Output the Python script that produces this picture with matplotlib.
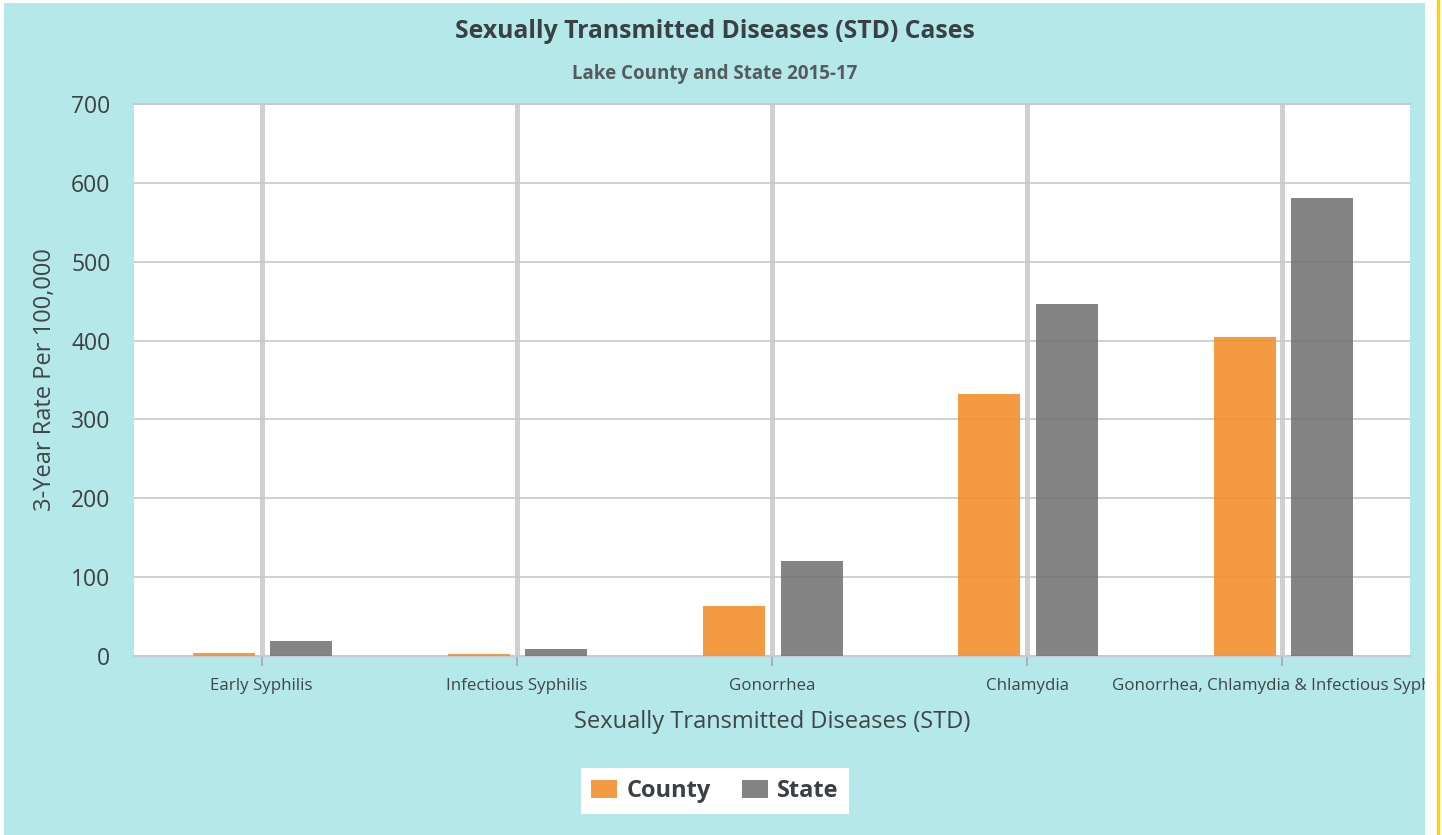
import matplotlib
matplotlib.use("Agg")
import matplotlib.pyplot as plt
import numpy as np
from matplotlib.patches import Rectangle
from matplotlib.lines import Line2D
from matplotlib.transforms import Bbox

categories = ["Early Syphilis", "Infectious Syphilis", "Gonorrhea", "Chlamydia",
              "Gonorrhea, Chlamydia & Infectious Syphilis"]
county = [4, 3, 63, 332, 405]
state = [19, 9, 120, 447, 581]
y_ticks = [0, 100, 200, 300, 400, 500, 600, 700]

plt.rcParams["font.family"] = ["Open Sans", "DejaVu Sans"]

W, H = 1442, 835
fig = plt.figure(figsize=(W / 100, H / 100), dpi=100, facecolor="white")

# chart background panel and the thin yellow rule on the right
fig.patches.append(Rectangle((4 / W, 0), (1425 - 4) / W, (H - 3) / H,
                             transform=fig.transFigure, facecolor="#b4e8e9",
                             edgecolor="none", zorder=-10))
fig.lines.append(Line2D([1438 / W, 1438 / W], [0, 1], transform=fig.transFigure,
                        color="#ffd200", linewidth=2.4, zorder=-5))

ax = fig.add_axes([134 / W, 1 - 656 / H, (1410 - 134) / W, (656 - 104) / H])
ax.set_facecolor("white")

x = np.arange(len(categories))
bw = 0.243
ax.bar(x - 0.148, county, width=bw, color="#f39232", alpha=0.92, label="County", zorder=3)
ax.bar(x + 0.155, state, width=bw, color="#6e6e6e", alpha=0.85, label="State", zorder=3)

ax.set_xlim(-0.5, len(categories) - 0.5)
ax.set_ylim(0, 700)
ax.set_yticks(y_ticks)
ax.set_xticks(x)
ax.set_xticklabels(categories)

ax.set_axisbelow(True)
ax.yaxis.grid(True, color="#c8c8c8", linewidth=1.2)
ax.xaxis.grid(True, color="#d0d0d0", linewidth=3.6)

for s in ["left", "right"]:
    ax.spines[s].set_visible(False)
ax.spines["top"].set_color("#c8c8c8")
ax.spines["top"].set_linewidth(1.2)
ax.spines["bottom"].set_color("#c5cbd6")
ax.spines["bottom"].set_linewidth(1.5)

ax.tick_params(axis="y", length=0, pad=17, labelsize=16.5, labelcolor="#404040")
ax.tick_params(axis="x", length=7, width=1.2, color="#a8a8a8", pad=9,
               labelsize=12.2, labelcolor="#404548")

# clip category labels to the chart background
clip = Bbox.from_extents(0, 0, 1425, H)
for lab in ax.get_xticklabels():
    lab.set_clip_box(clip)
    lab.set_clip_on(True)

ax.set_ylabel("3-Year Rate Per 100,000", fontsize=17, color="#404548", labelpad=10)
ax.set_xlabel("Sexually Transmitted Diseases (STD)", fontsize=17, color="#404548",
              labelpad=11)

fig.text(715 / W, 1 - 32 / H, "Sexually Transmitted Diseases (STD) Cases",
         ha="center", va="center", fontsize=17.8, fontweight="bold", color="#3a4046")
fig.text(715 / W, 1 - 74 / H, "Lake County and State 2015-17",
         ha="center", va="center", fontsize=13.5, fontweight="bold", color="#555a5e")

leg = fig.legend(loc="center", bbox_to_anchor=(715 / W, 1 - 791 / H), ncol=2,
                 frameon=True, fancybox=False, edgecolor="none", facecolor="white",
                 framealpha=1, prop={"weight": "bold", "size": 17},
                 handlelength=1.1, handleheight=0.8, handletextpad=0.4,
                 columnspacing=1.3, borderpad=0.45)
for t in leg.get_texts():
    t.set_color("#3a4046")

fig.savefig("out.png", dpi=100, facecolor="white")
